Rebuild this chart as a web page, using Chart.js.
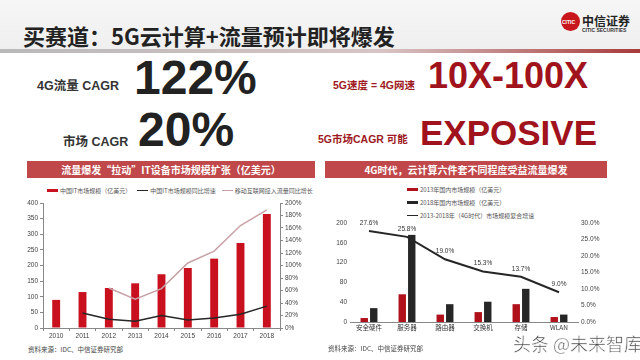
<!DOCTYPE html>
<html>
<head>
<meta charset="utf-8">
<script src="https://cdn.jsdelivr.net/npm/chart.js@4"></script>
<style>
  html, body { margin: 0; padding: 0; }
  body { width: 640px; height: 360px; position: relative; overflow: hidden; background: #fff;
         font-family: "Liberation Sans", "Noto Sans CJK SC", sans-serif; }
  .abs { position: absolute; line-height: 1; white-space: nowrap; }
  .header { left: 0; top: 0; width: 640px; height: 50px; background: linear-gradient(#f6f6f6, #efefef); }
  .hline { left: 0; top: 49px; width: 640px; height: 4px; background: linear-gradient(90deg, #b9b9b9, #d8c4c4 60%, #a83a3a); }
  .title { left: 23px; top: 19px; font: bold 22px "Noto Sans CJK SC", sans-serif; color: #222; }
  .big { font-weight: bold; font-family: "Liberation Sans", sans-serif; }
  .lab { font-weight: bold; font-size: 12.5px; color: #333; }
  .rlab { font-weight: bold; font-size: 10.5px; color: #9e1a22; }
  .band { height: 17px; background: #c0484b; color: #fff; font: bold 10px "Noto Sans CJK SC", sans-serif;
          text-align: center; line-height: 17px; }
  .src { font: 6.5px "Noto Sans CJK SC", sans-serif; color: #444; }
  .leg { font: 6px "Noto Sans CJK SC", sans-serif; color: #555; display: flex; align-items: center; }
  .leg i { display: inline-block; width: 11px; margin-right: 2px; }
  canvas { position: absolute; }
</style>
</head>
<body>
<div class="abs header"></div>
<div class="abs hline"></div>
<div class="abs title">买赛道：5G云计算+流量预计即将爆发</div>

<!-- logo -->
<div class="abs" style="left:561px;top:12px;width:19px;height:19px;border-radius:50%;background:#c8161d;"></div>
<div class="abs" style="left:562px;top:19px;font:bold 5px 'Liberation Sans';color:#fff;">CITIC</div>
<div class="abs" style="left:582px;top:12px;font:bold 12px 'Noto Sans CJK SC';color:#222;">中信证券</div>
<div class="abs" style="left:582px;top:27px;font:bold 5px 'Liberation Sans';color:#333;">CITIC SECURITIES</div>

<div class="abs lab" style="left:37px;top:80px;">4G流量 CAGR</div>
<div class="abs big" style="left:134px;top:54px;font-size:48px;color:#222;">122%</div>
<div class="abs lab" style="left:63px;top:136px;">市场 CAGR</div>
<div class="abs big" style="left:138px;top:106px;font-size:48px;color:#222;">20%</div>

<div class="abs rlab" style="left:333px;top:80px;">5G速度 = 4G网速</div>
<div class="abs big" style="left:428px;top:58px;font-size:36px;color:#a0121c;">10X-100X</div>
<div class="abs rlab" style="left:318px;top:134px;">5G市场CAGR 可能</div>
<div class="abs big" style="left:420px;top:115px;font-size:35px;color:#a0121c;">EXPOSIVE</div>

<div class="abs band" style="left:27px;top:161px;width:288px;">流量爆发“拉动”IT设备市场规模扩张（亿美元）</div>
<div class="abs band" style="left:325px;top:161px;width:282px;">4G时代，云计算六件套不同程度受益流量爆发</div>

<div class="abs" id="legL" style="left:47px;top:186px;display:flex;gap:6px;"></div>
<div class="abs" id="legR" style="left:407px;top:185px;display:flex;flex-direction:column;gap:4px;"></div>

<canvas id="left" width="320" height="145" style="left:0;top:196px;"></canvas>
<canvas id="right" width="320" height="119" style="left:320px;top:215px;"></canvas>

<div class="abs src" style="left:28px;top:344px;">资料来源：IDC、中信证券研究部</div>
<div class="abs src" style="left:328px;top:343px;">资料来源：IDC、中信证券研究部</div>

<div class="abs" style="left:513px;top:330px;font:18px 'Noto Sans CJK SC';color:rgba(40,40,40,0.85);-webkit-text-stroke:0.5px #fff;">头条 @未来智库</div>

<script>
// 左图：中国IT市场
const years = ['2010', '2011', '2012', '2013', '2014', '2015', '2016', '2017', '2018'];
const itMarket = [90, 115, 128, 143, 172, 192, 222, 272, 365];
const itGrowth = [null, 24, 14, 11, 20, 13, 16, 22, 35];
const trafficGrowth = [null, null, 64, 46, 63, 104, 123, 164, 189];
const leftNames = ['中国IT市场规模（亿美元）', '中国IT市场规模同比增速', '移动互联网接入流量同比增长'];

// 右图：六件套
const segments = ['安全硬件', '服务器', '路由器', '交换机', '存储', 'WLAN'];
const market2013 = [8, 56, 15, 20, 36, 10];
const market2018 = [28, 176, 36, 41, 67, 15];
const cagr = [27.6, 25.8, 19.0, 15.3, 13.7, 9.0];
const rightNames = ['2013年国内市场规模（亿美元）', '2018年国内市场规模（亿美元）', '2013-2018年（4G时代）市场规模复合增速'];

const RED = '#c8101e', DARK = '#262626', PINK = '#c9a2a8';
const tickFont = { size: 6.5, family: 'Liberation Sans' };
const axisGrid = { drawOnChartArea: false, tickLength: 3, color: '#888' };
const noGrid = { display: false, drawTicks: false };

function legend(id, names, colors, heights) {
  const el = document.getElementById(id);
  names.forEach(function(n, i) {
    const d = document.createElement('div');
    d.className = 'leg';
    d.innerHTML = '<i style="height:' + heights[i] + 'px;background:' + colors[i] + '"></i>' + n;
    el.appendChild(d);
  });
}
legend('legL', leftNames, [RED, DARK, PINK], [3, 1.5, 1]);
legend('legR', rightNames, ['#b0101a', DARK, DARK], [3, 3, 1.5]);

new Chart(document.getElementById('left'), {
  type: 'bar',
  data: {
    labels: years,
    datasets: [
      { type: 'line', label: leftNames[2], data: trafficGrowth, yAxisID: 'y1', borderColor: PINK,
        borderWidth: 1.5, pointRadius: 0, order: 0 },
      { type: 'line', label: leftNames[1], data: itGrowth, yAxisID: 'y1', borderColor: DARK,
        borderWidth: 1.5, pointRadius: 0, order: 0 },
      { label: leftNames[0], data: itMarket, backgroundColor: RED, barPercentage: 0.3,
        categoryPercentage: 1, order: 1 }
    ]
  },
  options: {
    responsive: false,
    animation: false,
    layout: { padding: { top: 7 } },
    plugins: { legend: { display: false }, tooltip: { enabled: false } },
    scales: {
      x: { grid: axisGrid, border: { color: '#888' }, ticks: { font: tickFont, color: '#444', padding: 1 },
           afterFit: function(s) { s.height = 13; } },
      y: { min: 0, max: 400, ticks: { stepSize: 50, font: tickFont, color: '#444', padding: 2 },
           grid: axisGrid, border: { color: '#888' }, afterFit: function(s) { s.width = 43; } },
      y1: { position: 'right', min: 0, max: 200,
            ticks: { stepSize: 20, font: tickFont, color: '#444', padding: 2, callback: v => v + '%' },
            grid: axisGrid, border: { color: '#888' }, afterFit: function(s) { s.width = 40; } }
    }
  }
});

// 折线上方的百分比标签
const pctLabels = {
  id: 'pctLabels',
  afterDatasetsDraw(chart) {
    const ctx = chart.ctx;
    const meta = chart.getDatasetMeta(0);
    ctx.save();
    ctx.font = '6.5px "Liberation Sans"';
    ctx.fillStyle = '#333';
    ctx.textAlign = 'center';
    ctx.textBaseline = 'middle';
    meta.data.forEach(function(p, i) {
      ctx.fillText(cagr[i].toFixed(1) + '%', p.x, p.y - 8);
    });
    ctx.restore();
  }
};

new Chart(document.getElementById('right'), {
  type: 'bar',
  data: {
    labels: segments,
    datasets: [
      { type: 'line', label: rightNames[2], data: cagr, yAxisID: 'y1', borderColor: DARK,
        borderWidth: 2, pointRadius: 0, order: 0 },
      { label: rightNames[0], data: market2013, backgroundColor: '#b0101a', order: 1,
        barPercentage: 0.78, categoryPercentage: 0.5 },
      { label: rightNames[1], data: market2018, backgroundColor: DARK, order: 1,
        barPercentage: 0.78, categoryPercentage: 0.5 }
    ]
  },
  options: {
    responsive: false,
    animation: false,
    layout: { padding: { top: 8 } },
    plugins: { legend: { display: false }, tooltip: { enabled: false } },
    scales: {
      x: { grid: noGrid, border: { color: '#888' },
           ticks: { font: { size: 6.5, family: 'Noto Sans CJK SC' }, color: '#333', padding: 2 },
           afterFit: function(s) { s.height = 12; } },
      y: { min: 0, max: 200, ticks: { stepSize: 20, font: tickFont, color: '#444', padding: 3 },
           grid: noGrid, border: { display: false }, afterFit: function(s) { s.width = 30; } },
      y1: { position: 'right', min: 0, max: 30,
            ticks: { stepSize: 5, font: tickFont, color: '#444', padding: 3, callback: v => v.toFixed(1) + '%' },
            grid: noGrid, border: { display: false }, afterFit: function(s) { s.width = 62; } }
    }
  },
  plugins: [pctLabels]
});
</script>
</body>
</html>
